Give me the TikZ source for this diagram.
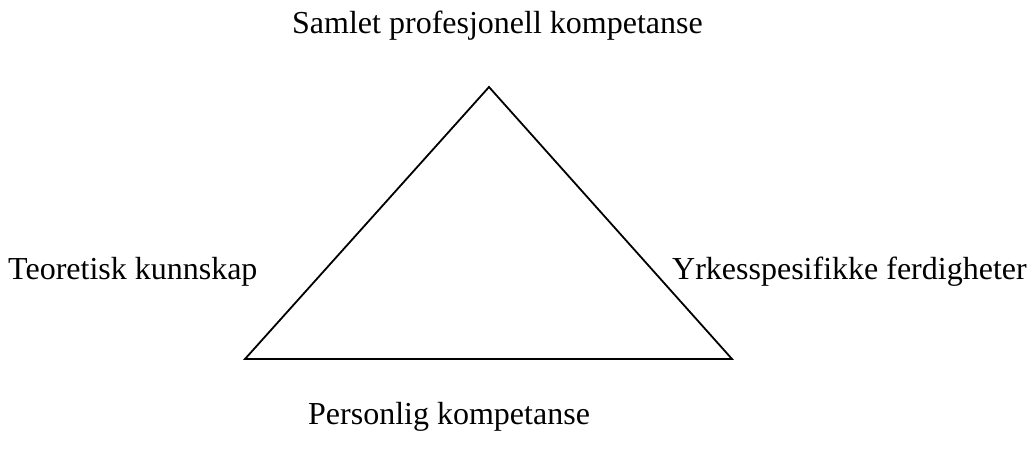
\documentclass[tikz,border=0pt]{standalone}
\usepackage{fontspec}
\setmainfont{Liberation Serif}
\begin{document}
\begin{tikzpicture}[x=1pt,y=-1pt,
  lbl/.style={inner sep=0pt,font=\fontsize{32}{38}\selectfont,anchor=base west},
  tri/.style={draw=black,line width=1.8pt,line join=miter}]
\useasboundingbox (0,0) rectangle (1029,451);
\coordinate (A) at (489,87);
\coordinate (B) at (245,359);
\coordinate (C) at (732,359);
\draw[tri] (A) -- (B) -- (C) -- cycle;
\node[lbl] (top) at (292,33) {Samlet profesjonell kompetanse};
\node[lbl] (left) at (8,279) {Teoretisk kunnskap};
\node[lbl] (right) at (672,279) {Yrkesspesifikke ferdigheter};
\node[lbl] (bottom) at (308,424) {Personlig kompetanse};
\end{tikzpicture}
\end{document}
